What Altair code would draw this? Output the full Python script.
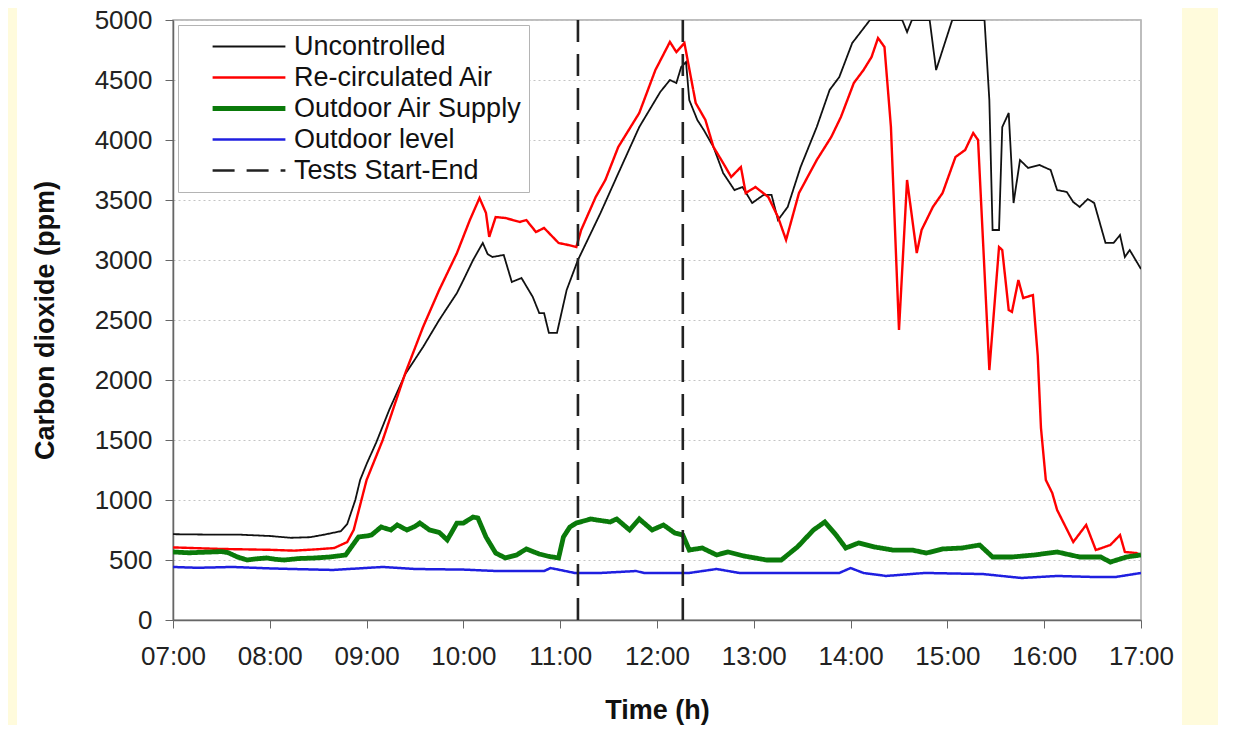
import altair as alt
import pandas as pd

# ---- data (time "HH:MM", CO2 ppm) ----
uncontrolled = [("07:00",715),("07:20",712),("07:40",712),("08:00",700),("08:13",685),("08:25",690),
    ("08:34",712),("08:44",740),("08:48",800),("08:53",1000),("08:56",1167),("09:00",1300),("09:06",1480),
    ("09:14",1750),("09:24",2050),("09:35",2275),("09:45",2500),("09:56",2725),("10:00",2833),("10:06",3000),
    ("10:12",3142),("10:15",3050),("10:18",3025),("10:25",3042),("10:30",2817),("10:36",2850),("10:43",2692),
    ("10:47",2558),("10:50",2558),("10:53",2392),("10:58",2392),("11:04",2750),("11:11",3000),("11:25",3392),
    ("11:35",3692),("11:49",4108),("12:02",4400),("12:08",4500),("12:12",4475),("12:15",4608),("12:18",4650),
    ("12:20",4333),("12:25",4167),("12:29",4083),("12:35",3942),("12:41",3725),("12:48",3583),("12:53",3608),
    ("12:59",3475),("13:06",3542),("13:11",3542),("13:15",3333),("13:21",3442),("13:29",3775),("13:39",4108),
    ("13:47",4417),("13:53",4525),("14:01",4808),("14:12",5000),("14:32",5000),("14:35",4900),("14:38",5000),
    ("14:49",5000),("14:53",4583),("15:03",5000),("15:23",5000),("15:26",4333),("15:28",3250),("15:32",3250),
    ("15:34",4108),("15:38",4225),("15:41",3475),("15:45",3833),("15:50",3767),("15:57",3792),("16:04",3750),
    ("16:08",3583),("16:14",3567),("16:18",3483),("16:22",3442),("16:27",3508),("16:31",3475),("16:38",3142),
    ("16:43",3142),("16:47",3208),("16:50",3025),("16:53",3083),("17:00",2925)]

recirculated = [("07:00",605),("07:30",592),("08:00",585),("08:15",578),("08:30",590),("08:40",600),
    ("08:48",650),("08:52",750),("09:00",1167),("09:10",1500),("09:24",2058),("09:35",2442),("09:45",2750),
    ("09:56",3058),("10:04",3333),("10:10",3517),("10:14",3392),("10:16",3192),("10:20",3358),("10:26",3350),
    ("10:35",3317),("10:39",3333),("10:45",3233),("10:50",3267),("10:59",3142),("11:05",3125),("11:10",3108),
    ("11:13",3250),("11:22",3525),("11:28",3667),("11:36",3942),("11:49",4225),("11:59",4583),("12:08",4817),
    ("12:12",4733),("12:17",4808),("12:24",4308),("12:30",4167),("12:35",3942),("12:41",3808),("12:46",3692),
    ("12:52",3775),("12:55",3558),("13:01",3608),("13:09",3525),("13:15",3358),("13:20",3167),("13:28",3558),
    ("13:39",3833),("13:48",4025),("13:54",4192),("14:02",4475),("14:08",4583),("14:13",4692),("14:17",4850),
    ("14:21",4775),("14:25",4108),("14:30",2417),("14:35",3667),("14:41",3058),("14:44",3250),("14:51",3442),
    ("14:57",3558),("15:05",3858),("15:11",3917),("15:16",4058),("15:19",4000),("15:26",2083),("15:32",3108),
    ("15:34",3083),("15:38",2583),("15:40",2567),("15:44",2833),("15:47",2683),("15:53",2708),("15:56",2200),
    ("15:58",1600),("16:01",1167),("16:05",1058),("16:08",917),("16:18",650),("16:26",792),("16:32",583),
    ("16:41",625),("16:47",708),("16:50",567),("16:57",558),("17:00",540)]

outdoor_supply = [("07:00",567),("07:10",560),("07:20",565),("07:30",570),("07:34",562),("07:40",525),
    ("07:46",500),("07:52",510),("07:58",517),("08:04",505),("08:09",500),("08:18",512),("08:28",517),
    ("08:37",525),("08:47",542),("08:55",692),("09:00",700),("09:03",708),("09:09",775),("09:15",750),
    ("09:19",792),("09:25",750),("09:30",780),("09:33",808),("09:39",750),("09:45",730),("09:50",667),
    ("09:56",808),("10:00",808),("10:06",858),("10:09",850),("10:14",692),("10:20",558),("10:26",517),
    ("10:33",542),("10:39",592),("10:47",550),("10:53",530),("10:59",517),("11:02",692),("11:06",775),
    ("11:10",808),("11:19",842),("11:23",833),("11:31",817),("11:35",842),("11:43",750),("11:49",842),
    ("11:57",750),("12:04",792),("12:11",725),("12:16",708),("12:20",583),("12:28",600),("12:37",542),
    ("12:44",567),("12:54",533),("13:08",500),("13:17",500),("13:27",608),("13:37",750),("13:44",817),
    ("13:51",708),("13:57",600),("14:05",642),("14:15",608),("14:26",583),("14:38",583),("14:47",558),
    ("14:57",592),("15:09",600),("15:20",625),("15:28",525),("15:40",525),("15:54",542),("16:08",567),
    ("16:22",525),("16:35",525),("16:41",483),("16:51",525),("17:00",542)]

outdoor_level = [("07:00",442),("07:15",435),("07:37",442),("08:00",430),("08:14",425),("08:39",417),
    ("09:10",442),("09:30",425),("10:00",420),("10:21",408),("10:50",408),("10:54",433),("11:09",392),
    ("11:25",392),("11:47",408),("11:52",392),("12:20",392),("12:37",425),("12:51",392),("13:27",392),
    ("13:53",392),("14:00",433),("14:08",392),("14:22",367),("14:46",392),("15:22",383),("15:46",350),
    ("16:08",367),("16:32",358),("16:44",358),("17:00",392)]

test_marks = ["11:11", "12:16"]

series_names = ["Uncontrolled", "Re-circulated Air", "Outdoor Air Supply", "Outdoor level", "Tests Start-End"]
series_colors = ["#111111", "#ff0000", "#0a7a0a", "#1f1fe0", "#222222"]
series_widths = [1.8, 2.4, 4.8, 2.5, 2.6]
series_dashes = [[1, 0], [1, 0], [1, 0], [1, 0], [22, 12]]

hour_ticks = list(range(7, 18))
ppm_ticks = list(range(0, 5001, 500))


def to_hours(s):
    h, m = s.split(":")
    return int(h) + int(m) / 60.0


rows = []
for name, pts in zip(series_names[:4], [uncontrolled, recirculated, outdoor_supply, outdoor_level]):
    for i, (t, v) in enumerate(pts):
        rows.append({"series": name, "t": to_hours(t), "ppm": v, "i": i})
lines_df = pd.DataFrame(rows)
rules_df = pd.DataFrame({"series": ["Tests Start-End"] * len(test_marks),
                         "t": [to_hours(t) for t in test_marks]})

FONT = "Liberation Sans"

legend = alt.Legend(title=None, orient="top-left", offset=5, symbolType="stroke",
                    symbolSize=5300, labelFontSize=27, labelFont=FONT, labelColor="#111",
                    labelFontWeight="normal",
                    fillColor="white", strokeColor="#b4b4b4", padding=6, rowPadding=0,
                    clipHeight=31, symbolOffset=26, labelOffset=6, labelLimit=400)

color = alt.Color("series:N", scale=alt.Scale(domain=series_names, range=series_colors), legend=legend)
dash = alt.StrokeDash("series:N", scale=alt.Scale(domain=series_names, range=series_dashes), legend=legend)
width = alt.StrokeWidth("series:N", scale=alt.Scale(type="ordinal", domain=series_names, range=series_widths),
                        legend=legend)

x_axis = alt.Axis(values=hour_ticks, labelExpr="(datum.value < 10 ? '0' : '') + datum.value + ':00'",
                  title="Time (h)", grid=False, tickSize=8, labelPadding=15, labelFontSize=26,
                  labelFlush=False, labelOverlap=False,
                  labelFont=FONT, labelColor="#222", titleFont=FONT, titleFontSize=27,
                  titleFontWeight="bold", titleColor="#111", titleX=484, titleY=90,
                  titleBaseline="middle", domainColor="#666", tickColor="#666", domainWidth=1.5)
y_axis = alt.Axis(values=ppm_ticks, format="d", title="Carbon dioxide (ppm)", grid=True, gridDash=[2, 3],
                  gridColor="#c4c4c4", gridWidth=1, tickSize=8, labelPadding=13, labelFontSize=26,
                  labelFont=FONT, labelColor="#222", titleFont=FONT, titleFontSize=27,
                  titleFontWeight="bold", titleColor="#111", titleX=-128, titleY=300,
                  titleBaseline="middle", domainColor="#666", tickColor="#666", domainWidth=1.5)

x = alt.X("t:Q", scale=alt.Scale(domain=[7, 17], nice=False, zero=False), axis=x_axis)

lines = alt.Chart(lines_df).mark_line(interpolate="linear", clip=True).encode(
    x=x,
    y=alt.Y("ppm:Q", scale=alt.Scale(domain=[0, 5000], nice=False), axis=y_axis),
    color=color, strokeDash=dash, strokeWidth=width, order="i:Q",
)

rules = alt.Chart(rules_df).mark_rule().encode(
    x=alt.X("t:Q"), color=color, strokeDash=dash, strokeWidth=width,
)

# pale yellow slide panels at the picture's edges (decoration)
panel_right = alt.Chart(pd.DataFrame({"a": [0]})).mark_rect(color="#fffbdc").encode(
    x=alt.value(1009), x2=alt.value(1080), y=alt.value(-12), y2=alt.value(710))
panel_left = alt.Chart(pd.DataFrame({"a": [0]})).mark_rect(color="#fffbdc").encode(
    x=alt.value(-165), x2=alt.value(-156), y=alt.value(-12), y2=alt.value(710))

chart = alt.layer(panel_right, panel_left, lines, rules).properties(
    width=968, height=600,
    autosize=alt.AutoSizeParams(type="none"),
    padding={"left": 165, "top": 12, "right": 77, "bottom": 105},
    background="white",
).configure_view(stroke="#a8a8a8", strokeWidth=1.5)

chart.save("out.html", embed_options={"renderer": "svg", "actions": False})
